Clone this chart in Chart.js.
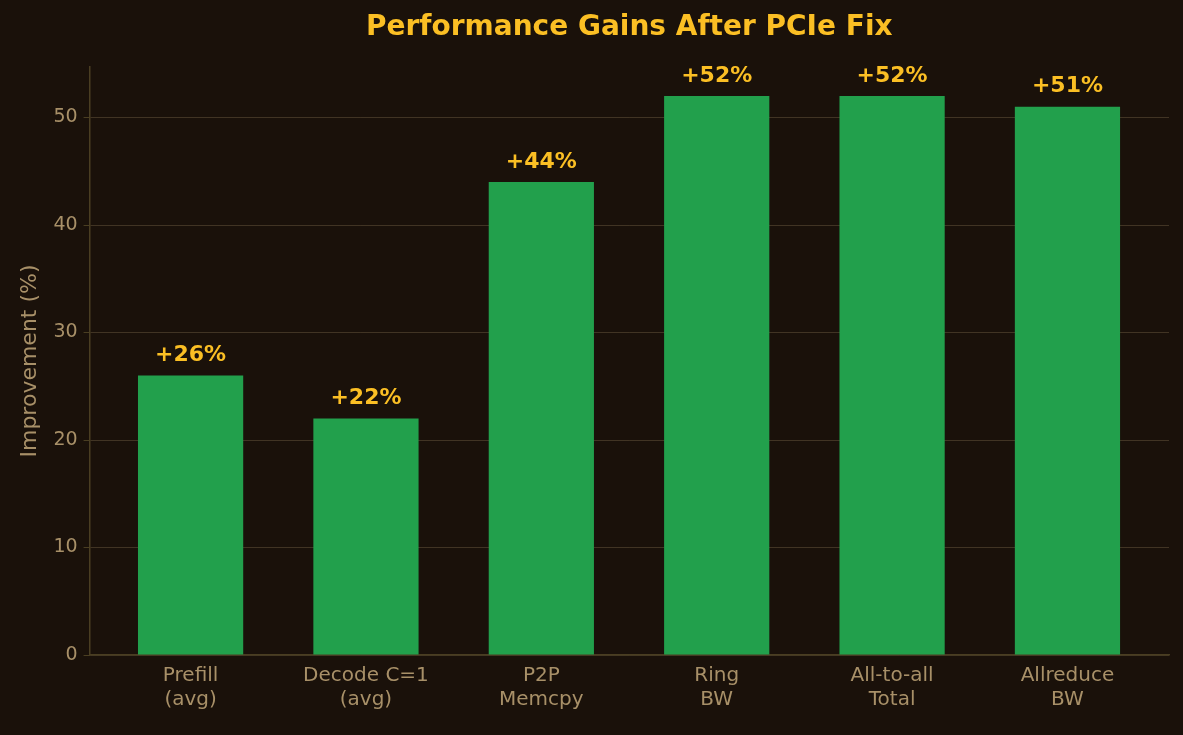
<!DOCTYPE html>
<html>
<head>
<meta charset="utf-8">
<script src="https://cdn.jsdelivr.net/npm/chart.js@4.4.1/dist/chart.umd.min.js"></script>
<style>
  html, body { margin: 0; padding: 0; background: #1a110a; }
  #wrap { width: 1183px; height: 735px; position: relative; }
</style>
</head>
<body>
<div id="wrap"><canvas id="c"></canvas></div>
<script>
const categories = [["Prefill", "(avg)"], ["Decode C=1", "(avg)"], ["P2P", "Memcpy"], ["Ring", "BW"], ["All-to-all", "Total"], ["Allreduce", "BW"]];
const gains = [26, 22, 44, 52, 52, 51];
const yTicks = [0, 10, 20, 30, 40, 50];
const titleText = "Performance Gains After PCIe Fix";

const tickColor = "#a89068";
const axisColor = "#4a3e22";

const valueLabels = {
  id: "valueLabels",
  afterDatasetsDraw(chart) {
    const { ctx, chartArea } = chart;
    const meta = chart.getDatasetMeta(0);
    ctx.save();
    ctx.fillStyle = "#fbbf24";
    ctx.font = "bold 22px 'DejaVu Sans'";
    ctx.textAlign = "center";
    ctx.textBaseline = "bottom";
    meta.data.forEach((bar, i) => {
      ctx.fillText(`+${gains[i]}%`, bar.x, bar.y - 9);
    });
    ctx.font = "bold 28px 'DejaVu Sans'";
    ctx.textBaseline = "middle";
    ctx.fillText(titleText, (chartArea.left + chartArea.right) / 2, 28);
    ctx.restore();
  },
};

new Chart(document.getElementById("c"), {
  type: "bar",
  data: {
    datasets: [{
      data: gains.map((v, i) => ({ x: i, y: v })),
      backgroundColor: "#22a04c",
      categoryPercentage: 1,
      barPercentage: 0.6,
    }],
  },
  options: {
    responsive: true,
    maintainAspectRatio: false,
    animation: false,
    layout: { padding: { left: 13, right: 14, top: 67, bottom: 20 } },
    plugins: {
      legend: { display: false },
      tooltip: { enabled: false },
      title: { display: false },
    },
    scales: {
      x: {
        type: "linear",
        offset: false,
        min: -0.576,
        max: 5.579,
        afterBuildTicks: (s) => { s.ticks = categories.map((_, i) => ({ value: i })); },
        ticks: {
          color: tickColor,
          font: { family: "'DejaVu Sans'", size: 20 },
          callback: (v) => categories[v],
          maxRotation: 0,
          autoSkip: false,
        },
        grid: { display: false, drawTicks: true, tickLength: 6, tickColor: axisColor },
        border: { color: axisColor, width: 1.5 },
      },
      y: {
        min: 0,
        max: 54.7,
        afterBuildTicks: (s) => { s.ticks = yTicks.map((v) => ({ value: v })); },
        ticks: { color: tickColor, font: { family: "'DejaVu Sans'", size: 19 }, padding: 6 },
        grid: { color: "rgba(168,144,104,0.28)", tickColor: axisColor, tickLength: 6 },
        border: { color: axisColor, width: 1.5 },
        title: {
          display: true,
          text: "Improvement (%)",
          color: tickColor,
          font: { family: "'DejaVu Sans'", size: 22 },
        },
      },
    },
  },
  plugins: [valueLabels],
});
</script>
</body>
</html>
